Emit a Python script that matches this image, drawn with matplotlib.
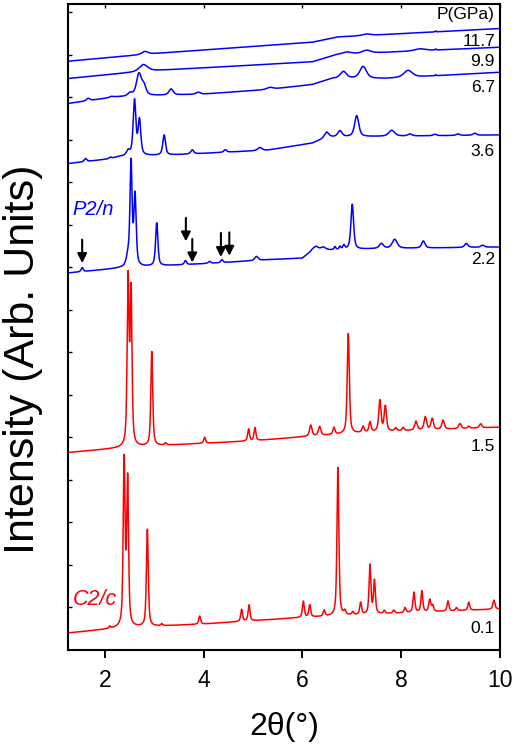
import numpy as np
import matplotlib
matplotlib.use("Agg")
import matplotlib.pyplot as plt

plt.rcParams["font.family"] = ["Liberation Sans", "DejaVu Sans"]

RED = "#ff0000"
BLUE = "#0000ff"

# baselines: (2theta, intensity) nodes, intensity already offset for stacking
BASE_01 = [(1.25, 17), (2.3, 22), (4.0, 26), (6.0, 32.5), (8.0, 37), (10.0, 41)]
BASE_15 = [(1.25, 197.3), (2.3, 201.7), (3.0, 204), (5.0, 209), (6.0, 213), (7.5, 218), (10.0, 222.7)]
BASE_22 = [(1.25, 376.7), (2.3, 381.5), (3.0, 383.5), (4.2, 386.5), (5.3, 390), (6.0, 391.5),
           (6.2, 399), (7.5, 401), (10.0, 402.7)]
BASE_36 = [(1.25, 486), (2.1, 490.7), (2.3, 493), (3.5, 495), (5.3, 499.5), (6.2, 506.5),
           (6.5, 512.5), (10.0, 514.7)]
BASE_67 = [(1.25, 546), (2.2, 552.5), (3.0, 554), (4.0, 555.5), (5.3, 560), (6.2, 565),
           (6.6, 571), (7.7, 571), (10.0, 577.3)]
BASE_99 = [(1.25, 571), (2.3, 576), (3.0, 579), (6.2, 587.7), (6.7, 595), (10.0, 602.3)]
BASE_117 = [(1.25, 588.3), (3.0, 596), (6.2, 607.3), (6.7, 612.5), (10.0, 621)]

# peaks: (position, height above baseline, fwhm)
PEAKS_01 = [(2.10, 2, 0.04), (2.39, 165, 0.045), (2.46, 145, 0.045), (2.86, 97, 0.045),
            (3.15, 2, 0.04), (3.92, 8, 0.045), (4.77, 12, 0.045), (4.92, 16, 0.045),
            (6.02, 16, 0.045), (6.15, 12, 0.045), (6.44, 6, 0.045), (6.72, 148, 0.045),
            (6.86, 4, 0.045), (7.02, 3, 0.045), (7.18, 12, 0.045), (7.37, 49, 0.045),
            (7.46, 33, 0.045), (7.66, 3, 0.045), (7.85, 3, 0.045), (8.08, 5, 0.045),
            (8.26, 20, 0.045), (8.42, 21, 0.045), (8.58, 12, 0.05), (8.64, 6, 0.045),
            (8.95, 10, 0.045), (9.12, 3, 0.045), (9.37, 8, 0.045), (9.88, 9, 0.05)]
PEAKS_15 = [(2.47, 165, 0.045), (2.53, 152, 0.045), (2.95, 94, 0.045), (3.23, 2, 0.045),
            (4.02, 6, 0.045), (4.91, 12, 0.045), (5.04, 13, 0.045), (6.17, 11, 0.06),
            (6.35, 9, 0.06), (6.64, 7, 0.05), (6.93, 100, 0.05), (7.23, 6, 0.05),
            (7.37, 10, 0.05), (7.57, 31, 0.055), (7.68, 25, 0.055), (7.89, 3, 0.05),
            (8.04, 3, 0.05), (8.30, 9, 0.06), (8.49, 13, 0.06), (8.63, 11, 0.06),
            (8.85, 9, 0.06), (9.19, 5, 0.06), (9.37, 2, 0.05), (9.61, 4, 0.06)]
PEAKS_22 = [(1.54, 4, 0.05), (2.47, 10, 0.08), (2.53, 102, 0.05), (2.61, 70, 0.055),
            (3.05, 43, 0.055), (3.63, 4, 0.05), (4.12, 2, 0.06), (4.37, 3, 0.05),
            (5.07, 4, 0.08), (6.27, 4, 0.12), (6.42, 3, 0.12), (6.66, 3, 0.04),
            (6.76, 3, 0.04), (6.84, 4, 0.05), (7.01, 45, 0.065), (7.60, 5, 0.1),
            (7.87, 9, 0.12), (8.45, 7, 0.08), (9.32, 4, 0.08), (9.65, 2, 0.08)]
PEAKS_36 = [(1.61, 3, 0.06), (2.11, 1.5, 0.06), (2.47, 5, 0.08), (2.60, 55, 0.065),
            (2.70, 35, 0.065), (3.20, 20, 0.065), (3.77, 4, 0.07), (4.44, 2.5, 0.07),
            (5.14, 3, 0.1), (6.49, 5, 0.1), (6.76, 6, 0.1), (7.10, 21, 0.1),
            (7.81, 6, 0.14), (8.18, 2, 0.1), (8.68, 1.5, 0.08), (9.15, 1.5, 0.08),
            (9.49, 2, 0.08)]
PEAKS_67 = [(1.66, 2.5, 0.08), (2.13, 1, 0.08), (2.51, 3, 0.1), (2.69, 22, 0.12),
            (2.79, 9, 0.1), (3.34, 6, 0.1), (3.89, 2, 0.1), (5.34, 2, 0.15),
            (6.83, 7, 0.15), (7.23, 12, 0.16), (8.14, 7, 0.2), (8.70, 1, 0.02)]
PEAKS_99 = [(2.78, 7, 0.2), (6.90, 2, 0.2), (7.30, 3, 0.2), (8.38, 2, 0.25), (8.70, 1, 0.02)]
PEAKS_117 = [(2.81, 3, 0.15), (7.30, 1.5, 0.2), (8.70, 1, 0.02)]

PRESSURES = ["0.1", "1.5", "2.2", "3.6", "6.7", "9.9", "11.7"]
LABEL_Y = [21.7, 203.3, 390, 498, 562, 588, 608.3]

# arrows on the 2.2 GPa pattern: (2theta, tail, tip)
ARROWS = [(1.54, 410, 386.7), (3.64, 431.7, 408.3), (3.77, 410.7, 387.3),
          (4.35, 416.7, 392.7), (4.52, 417.3, 394)]

XTICKS = [2, 4, 6, 8, 10]


def profile(x, base, peaks, eta=0.6):
    bt, by = zip(*base)
    y = np.interp(x, bt, by)
    for pos, h, w in peaks:
        lor = 1.0 / (1.0 + ((x - pos) / (w / 2)) ** 2)
        gau = np.exp(-np.log(2) * ((x - pos) / (w / 2)) ** 2)
        y = y + h * (eta * lor + (1 - eta) * gau)
    return y


fig = plt.figure(figsize=(5.18, 7.48), dpi=100)
ax = fig.add_axes([0.131, 0.131, 0.834, 0.863])

x = np.linspace(1.25, 10, 4000)
patterns = [
    (BASE_01, PEAKS_01, RED),
    (BASE_15, PEAKS_15, RED),
    (BASE_22, PEAKS_22, BLUE),
    (BASE_36, PEAKS_36, BLUE),
    (BASE_67, PEAKS_67, BLUE),
    (BASE_99, PEAKS_99, BLUE),
    (BASE_117, PEAKS_117, BLUE),
]
for base, peaks, color in patterns:
    ax.plot(x, profile(x, base, peaks), color=color, lw=1.1)

for p, yl in zip(PRESSURES, LABEL_Y):
    ax.text(9.9, yl, p, ha="right", va="center", fontsize=12.5)
ax.text(9.9, 635, "P(GPa)", ha="right", va="center", fontsize=12.5)

for t, tail, tip in ARROWS:
    ax.annotate("", xy=(t, tip), xytext=(t, tail),
                arrowprops=dict(arrowstyle="-|>,head_width=0.28,head_length=0.55",
                                color="black", lw=1.5, shrinkA=0, shrinkB=0))

ax.text(1.345, 440, "P2/n", color=BLUE, style="italic", fontsize=14.5, va="center")
ax.text(1.345, 50, "C2/c", color=RED, style="italic", fontsize=15.5, va="center")

ax.set_xlim(1.25, 10)
ax.set_ylim(0, 645)
ax.set_xticks(XTICKS)
ax.set_yticks(np.arange(42.5, 645, 42.5))
ax.tick_params(axis="x", direction="out", length=6, width=1.4, labelsize=16.5, pad=8)
ax.tick_params(axis="y", direction="in", length=3, width=1, labelleft=False)
secx = ax.secondary_xaxis("top")
secx.set_xticks(XTICKS)
secx.tick_params(direction="in", length=3, width=1, labeltop=False)
for s in ax.spines.values():
    s.set_linewidth(1.5)
secx.spines["top"].set_visible(False)

ax.set_xlabel("2θ(°)", fontsize=23, labelpad=14)
ax.set_ylabel("Intensity (Arb. Units)", fontsize=31)
ax.yaxis.set_label_coords(-0.058, 0.45)

fig.savefig("out.png", dpi=100)
